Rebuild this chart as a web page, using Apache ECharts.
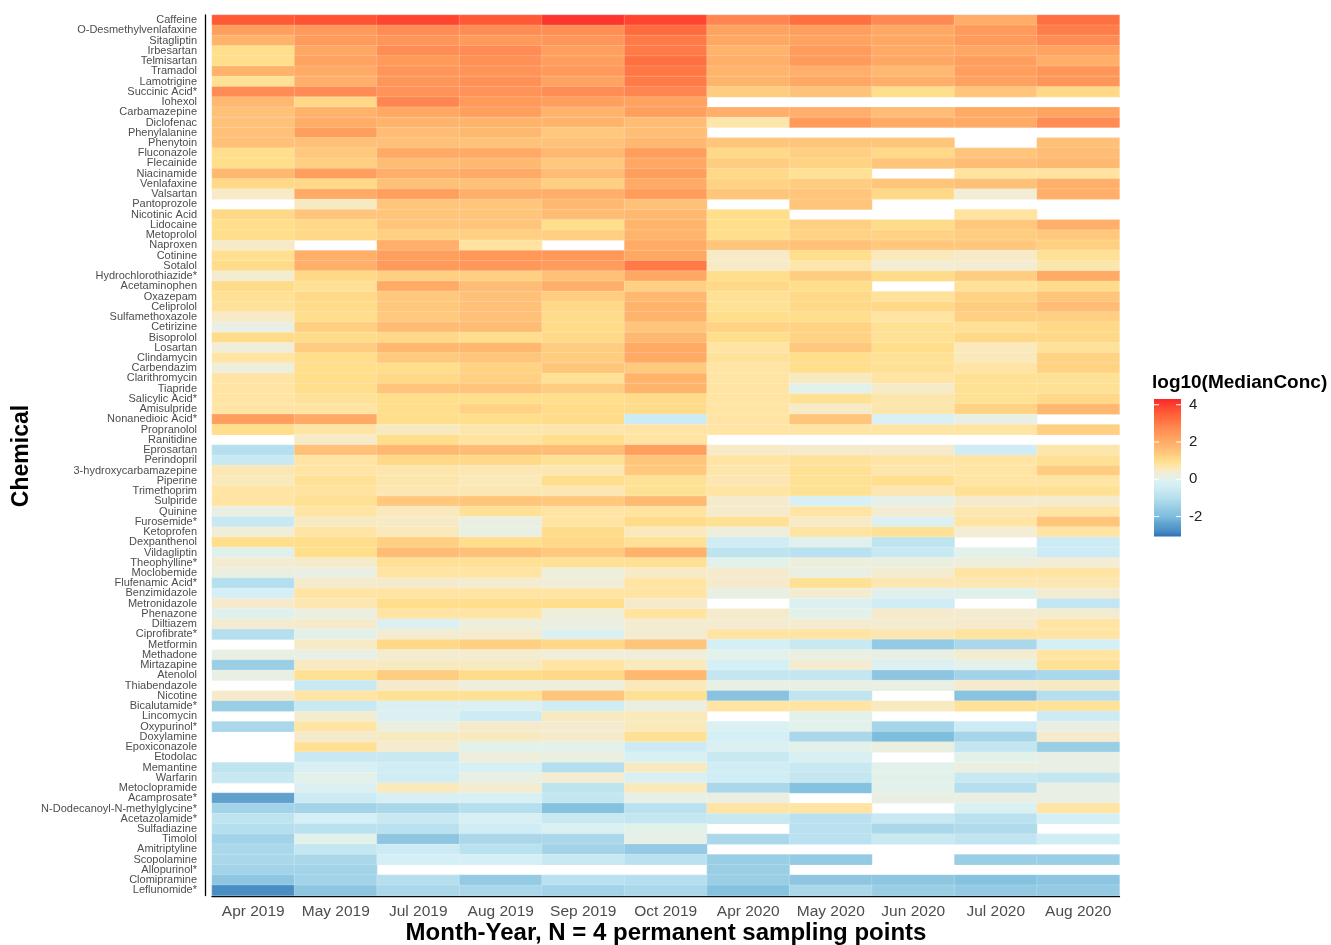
<!DOCTYPE html>
<html>
<head>
<meta charset="utf-8">
<title>log10(MedianConc) heatmap</title>
<script src="https://cdn.jsdelivr.net/npm/echarts@6/dist/echarts.min.js"></script>
<style>
  html, body { margin: 0; padding: 0; background: #fff; }
  #main { width: 1331px; height: 945px; }
</style>
</head>
<body>
<div id="main"></div>
<script>
// ---- data ----
var months = ['Apr 2019', 'May 2019', 'Jul 2019', 'Aug 2019', 'Sep 2019', 'Oct 2019',
              'Apr 2020', 'May 2020', 'Jun 2020', 'Jul 2020', 'Aug 2020'];

var chemicals = [
  'Caffeine', 'O-Desmethylvenlafaxine', 'Sitagliptin', 'Irbesartan', 'Telmisartan', 'Tramadol',
  'Lamotrigine', 'Succinic Acid*', 'Iohexol', 'Carbamazepine', 'Diclofenac', 'Phenylalanine',
  'Phenytoin', 'Fluconazole', 'Flecainide', 'Niacinamide', 'Venlafaxine', 'Valsartan',
  'Pantoprozole', 'Nicotinic Acid', 'Lidocaine', 'Metoprolol', 'Naproxen', 'Cotinine',
  'Sotalol', 'Hydrochlorothiazide*', 'Acetaminophen', 'Oxazepam', 'Celiprolol', 'Sulfamethoxazole',
  'Cetirizine', 'Bisoprolol', 'Losartan', 'Clindamycin', 'Carbendazim', 'Clarithromycin',
  'Tiapride', 'Salicylic Acid*', 'Amisulpride', 'Nonanedioic Acid*', 'Propranolol', 'Ranitidine',
  'Eprosartan', 'Perindopril', '3-hydroxycarbamazepine', 'Piperine', 'Trimethoprim', 'Sulpiride',
  'Quinine', 'Furosemide*', 'Ketoprofen', 'Dexpanthenol', 'Vildagliptin', 'Theophylline*',
  'Moclobemide', 'Flufenamic Acid*', 'Benzimidazole', 'Metronidazole', 'Phenazone', 'Diltiazem',
  'Ciprofibrate*', 'Metformin', 'Methadone', 'Mirtazapine', 'Atenolol', 'Thiabendazole',
  'Nicotine', 'Bicalutamide*', 'Lincomycin', 'Oxypurinol*', 'Doxylamine', 'Epoxiconazole',
  'Etodolac', 'Memantine', 'Warfarin', 'Metoclopramide', 'Acamprosate*', 'N-Dodecanoyl-N-methylglycine*',
  'Acetazolamide*', 'Sulfadiazine', 'Timolol', 'Amitriptyline', 'Scopolamine', 'Allopurinol*',
  'Clomipramine', 'Leflunomide*'
];

// one row per chemical, one value per month (null = not measured)
var conc = [
  [3.6, 3.7, 3.9, 3.6, 4.1, 3.9, 2.8, 3.2, 2.75, 2.0, 3.2],
  [2.3, 2.4, 2.7, 2.7, 2.65, 3.3, 2.2, 2.3, 2.1, 2.4, 2.95],
  [1.9, 2.35, 2.5, 2.4, 2.5, 3.0, 2.1, 2.2, 2.1, 2.35, 2.7],
  [1.0, 2.1, 2.65, 2.7, 2.3, 3.0, 1.85, 2.35, 2.05, 2.1, 2.2],
  [1.0, 2.2, 2.4, 2.6, 2.3, 3.2, 1.95, 2.35, 2.1, 2.3, 1.95],
  [1.9, 2.05, 2.5, 2.55, 2.4, 3.05, 1.85, 1.95, 1.75, 2.3, 2.5],
  [0.9, 1.95, 2.5, 2.6, 2.2, 3.0, 1.85, 2.1, 1.95, 2.25, 2.5],
  [2.7, 2.7, 2.55, 2.55, 2.65, 2.8, 1.3, 1.5, 1.0, 1.45, 1.1],
  [1.75, 1.1, 2.8, 2.4, 2.3, 2.2, null, null, null, null, null],
  [1.55, 1.9, 2.1, 2.3, 1.85, 2.3, 1.95, 1.95, 1.65, 2.05, 2.2],
  [1.55, 2.0, 1.85, 1.85, 1.85, 1.65, 0.7, 2.35, 2.05, 2.05, 2.7],
  [1.55, 2.3, 1.65, 1.75, 1.4, 1.6, null, null, null, null, null],
  [1.55, 1.55, 1.55, 1.5, 1.5, 1.75, 1.45, 1.45, 1.45, null, 1.55],
  [1.0, 1.4, 2.05, 2.05, 1.75, 2.3, 1.1, 1.25, 1.1, 1.45, 1.65],
  [1.0, 1.25, 1.65, 1.75, 1.4, 2.1, 1.3, 1.2, 1.45, 1.65, 1.75],
  [1.75, 2.3, 1.95, 2.05, 1.65, 2.3, 1.1, 0.9, null, 0.8, 0.8],
  [1.1, 1.1, 1.55, 1.55, 1.25, 2.05, 1.2, 1.3, 1.45, 1.55, 1.95],
  [0.5, 2.05, 2.3, 1.95, 1.95, 2.35, 1.45, 1.45, 1.1, 0.35, 1.95],
  [null, 0.55, 1.45, 1.45, 1.75, 1.55, null, 1.45, null, null, null],
  [1.1, 1.45, 1.45, 1.45, 1.65, 1.75, 1.0, null, null, 0.8, null],
  [1.0, 1.1, 1.45, 1.45, 1.0, 1.85, 1.0, 1.25, 1.05, 1.4, 1.95],
  [1.0, 1.1, 1.25, 1.25, 1.25, 1.85, 1.0, 1.2, 1.2, 1.3, 1.4],
  [0.5, null, 1.95, 0.8, null, 2.05, 1.45, 1.55, 1.4, 1.4, 1.25],
  [0.95, 1.95, 2.3, 2.45, 2.45, 2.1, 0.5, 1.0, 0.6, 0.5, 0.9],
  [1.05, 1.95, 2.4, 2.45, 2.35, 3.0, 0.5, 0.7, 0.35, 0.4, 0.7],
  [0.4, 1.1, 1.25, 1.25, 1.55, 2.1, 1.0, 1.3, 1.05, 1.3, 2.05],
  [1.05, 0.9, 2.05, 1.65, 1.95, 1.25, 1.1, 1.0, null, 0.85, 1.05],
  [0.9, 1.1, 1.4, 1.55, 1.3, 1.75, 0.9, 1.1, 0.85, 1.2, 1.45],
  [0.85, 1.05, 1.4, 1.55, 1.1, 1.85, 0.9, 1.1, 1.1, 1.3, 1.65],
  [0.5, 1.0, 1.35, 1.55, 1.05, 1.85, 1.0, 1.0, 0.75, 1.25, 1.25],
  [0.15, 1.25, 1.65, 1.65, 1.05, 1.45, 1.2, 1.2, 0.9, 0.9, 1.1],
  [1.05, 1.05, 1.1, 1.0, 1.1, 1.75, 1.0, 1.2, 0.9, 1.1, 1.1],
  [0.3, 1.3, 1.75, 1.75, 1.3, 2.05, 0.75, 1.4, 1.0, 0.6, 0.85],
  [0.75, 1.0, 1.35, 1.45, 1.3, 2.05, 0.85, 1.0, 0.9, 0.6, 1.2],
  [0.25, 1.0, 1.0, 1.2, 1.45, 1.35, 0.75, 1.0, 0.9, 0.75, 1.2],
  [0.75, 1.0, 1.1, 1.25, 0.9, 1.85, 0.75, 0.55, 0.75, 0.9, 0.9],
  [0.75, 1.0, 1.45, 1.45, 1.3, 1.85, 0.75, 0.05, 0.5, 0.9, 0.9],
  [0.75, 0.85, 1.0, 1.0, 1.0, 1.05, 0.75, 0.9, 0.7, 0.9, 1.1],
  [0.75, 0.75, 1.0, 1.2, 1.05, 1.05, 0.75, 0.5, 0.7, 1.2, 1.75],
  [2.3, 2.05, 1.0, 1.0, 1.05, -0.5, 0.75, 1.45, -0.15, 0.15, null],
  [1.0, 0.75, 0.55, 0.7, 0.7, 0.75, 0.75, 0.75, 0.75, 0.75, 1.25],
  [null, 0.5, 1.0, 0.8, 1.0, 0.75, null, null, null, null, null],
  [-1.0, 1.55, 1.75, 1.65, 1.65, 2.3, 0.5, 0.45, 0.45, -0.4, 0.7],
  [-0.6, 0.75, 1.1, 1.1, 0.9, 1.45, 0.75, 0.85, 0.75, 0.75, 0.9],
  [0.65, 0.75, 0.7, 0.65, 0.65, 1.4, 0.7, 0.9, 0.7, 0.75, 1.3],
  [0.6, 0.9, 0.7, 0.6, 1.0, 0.9, 0.65, 0.9, 1.0, 0.75, 0.75],
  [0.75, 0.8, 0.65, 0.65, 0.65, 0.9, 0.75, 0.9, 0.65, 0.9, 0.9],
  [0.75, 0.9, 1.4, 1.45, 1.4, 1.7, 0.45, -0.2, 0.1, 0.45, 0.45],
  [0.15, 0.75, 0.6, 0.9, 0.75, 0.8, 0.45, 0.75, 0.4, 0.65, 0.75],
  [-0.6, 0.55, 0.5, 0.15, 0.75, 1.05, 0.9, 0.5, -0.1, 0.75, 1.45],
  [0.3, 0.75, 0.6, 0.15, 1.05, 0.6, 0.25, 0.75, 0.9, 0.35, 0.75],
  [1.0, 1.0, 1.25, 1.0, 1.1, 0.9, -0.4, 0.0, -0.8, null, -0.5],
  [0.0, 1.0, 1.65, 1.55, 1.4, 1.9, -0.8, -0.9, -0.6, 0.05, -0.5],
  [0.4, 0.45, 0.9, 0.9, 0.9, 0.9, 0.05, 0.25, 0.2, 0.25, 0.35],
  [0.2, 0.15, 0.75, 0.75, 0.25, 0.5, 0.45, 0.15, 0.4, 0.75, 0.75],
  [-1.0, 0.45, 0.45, 0.4, 0.3, 0.75, 0.45, 0.9, 0.65, 0.65, 0.65],
  [-0.3, 0.75, 0.75, 0.75, 0.75, 0.75, 0.15, 0.4, 0.0, 0.0, 0.4],
  [0.45, 0.65, 1.0, 1.0, 1.0, 0.45, null, -0.1, -0.4, null, -0.7],
  [0.0, 0.2, 0.75, 0.75, 0.25, 0.8, 0.45, 0.05, 0.45, 0.4, 0.4],
  [0.4, 0.45, -0.1, 0.25, 0.2, 0.4, 0.4, 0.4, 0.4, 0.45, 0.75],
  [-1.0, 0.05, 0.4, 0.4, -0.1, 0.4, 0.75, 0.75, 0.65, 0.8, 0.75],
  [null, 0.5, 1.1, 1.25, 1.1, 1.45, -0.3, -0.6, -1.6, -1.2, -0.3],
  [0.15, 0.15, 0.4, 0.4, 0.3, 0.3, 0.05, 0.15, 0.15, 0.4, 0.75],
  [-1.5, 0.55, 0.55, 0.55, 0.75, 0.6, -0.3, 0.4, -0.1, 0.05, 0.9],
  [0.15, 0.9, 1.3, 1.05, 1.1, 1.75, -0.7, -0.7, -1.7, -1.35, -1.2],
  [null, -0.6, 0.45, 0.25, 0.25, 0.6, 0.15, 0.15, 0.15, 0.45, 0.55],
  [0.45, 0.75, 0.9, 0.9, 1.45, 0.9, -1.8, -0.75, null, -1.8, -1.0],
  [-1.5, -0.6, -0.1, -0.1, -0.4, 0.15, 0.75, 0.75, 0.55, 0.85, 0.85],
  [null, 0.4, -0.1, -0.5, 0.55, 0.6, null, 0.05, null, null, -0.5],
  [-1.2, 0.75, 0.2, 0.45, 0.4, 0.6, -0.15, 0.05, -1.3, -0.5, 0.15],
  [null, 0.45, 0.55, 0.55, 0.45, 0.9, -0.3, -1.2, -2.0, -1.3, 0.45],
  [null, 0.9, 0.4, 0.05, 0.05, -0.5, -0.1, 0.05, 0.2, -0.7, -1.5],
  [null, -0.6, -0.6, 0.25, 0.2, -0.2, -0.6, -0.2, null, 0.05, 0.15],
  [-0.8, -0.2, -0.4, -0.2, -1.0, 0.55, -0.4, -0.6, 0.05, 0.2, 0.15],
  [-0.6, 0.05, -0.4, 0.15, 0.4, -0.2, -0.4, -0.7, 0.05, -0.6, -0.7],
  [null, -0.1, 0.6, 0.4, -0.8, 0.6, -1.2, -1.9, 0.05, -1.0, 0.15],
  [-2.4, -0.5, -0.2, -0.2, -0.7, 0.1, 0.15, null, 0.15, 0.15, 0.15],
  [-1.35, -1.35, -1.2, -1.0, -1.9, -0.9, 0.75, 0.75, null, -0.15, 0.75],
  [-0.8, -0.3, -0.6, -0.2, -0.6, -0.7, -0.6, -0.9, -0.6, -0.9, -0.3],
  [-1.0, -0.9, -0.9, -0.4, -0.15, 0.05, null, -0.9, -1.2, -1.1, null],
  [-1.35, 0.05, -1.7, -1.2, -1.2, 0.1, -1.2, -0.9, -0.6, -0.75, -0.4],
  [-1.2, -0.7, -0.5, -0.9, -1.35, -1.6, null, null, null, null, null],
  [-1.2, -1.2, -0.3, -0.3, -0.6, -0.9, -1.5, -1.6, null, -1.5, -1.5],
  [-1.35, -1.35, null, null, null, null, -1.5, null, null, null, null],
  [-1.7, -1.35, -1.0, -1.6, -0.9, -1.0, -1.5, -1.7, -1.7, -1.9, -1.7],
  [-2.8, -1.7, -1.2, -1.2, -1.35, -1.2, -1.9, -1.2, -1.5, -1.6, -1.6]
];

var legendTicks = [4, 2, 0, -2];
var valueMin = -3.07, valueMax = 4.31;

// ---- colour ramp ----
var rampStops = [
  [-3.07, '#2b6fb2'], [-2.8, '#4a8ec6'], [-2.4, '#5fa0cd'], [-2.0, '#7fbfde'],
  [-1.7, '#8ec6e2'], [-1.35, '#a3d3e8'], [-1.0, '#b5dfee'], [-0.6, '#c8e8f2'],
  [-0.3, '#d4eff6'], [0, '#e0f1ee'], [0.25, '#eeeedc'], [0.5, '#f7ebc8'],
  [0.75, '#ffe4a4'], [1.0, '#ffdf8b'], [1.3, '#ffcd80'], [1.55, '#ffc078'],
  [1.85, '#ffb46c'], [2.1, '#ffa864'], [2.4, '#ff9a5a'], [2.7, '#ff8c55'],
  [3.0, '#ff7a46'], [3.2, '#ff7040'], [3.6, '#ff5a35'], [3.9, '#ff4530'],
  [4.31, '#f8272a']
];

function hexToRgb(h) {
  return [parseInt(h.substr(1, 2), 16), parseInt(h.substr(3, 2), 16), parseInt(h.substr(5, 2), 16)];
}
function colorAt(v) {
  if (v <= rampStops[0][0]) return rampStops[0][1];
  for (var i = 1; i < rampStops.length; i++) {
    if (v <= rampStops[i][0]) {
      var a = rampStops[i - 1], b = rampStops[i];
      var t = (v - a[0]) / (b[0] - a[0]);
      var ca = hexToRgb(a[1]), cb = hexToRgb(b[1]);
      var c = ca.map(function (x, k) { return Math.round(x + (cb[k] - x) * t); });
      return 'rgb(' + c.join(',') + ')';
    }
  }
  return rampStops[rampStops.length - 1][1];
}
var rampColors = [];
for (var i = 0; i <= 100; i++) rampColors.push(colorAt(valueMin + (valueMax - valueMin) * i / 100));

// ---- series data ----
var cells = [];
for (var r = 0; r < chemicals.length; r++) {
  for (var c = 0; c < months.length; c++) {
    if (conc[r][c] !== null) cells.push([c, r, conc[r][c]]);
  }
}

// ---- legend (drawn by hand, ggplot style) ----
var FONT = '"Liberation Sans", Arial, Helvetica, sans-serif';
var barX = 1154, barY = 399, barW = 27, barH = 137.5;
function legendY(v) { return barY + (valueMax - v) / (valueMax - valueMin) * barH; }

var gradStops = [];
for (var g = 0; g <= 40; g++) {
  var v = valueMax - (valueMax - valueMin) * g / 40;
  gradStops.push({ offset: g / 40, color: colorAt(v) });
}

var graphics = [
  { type: 'rect', shape: { x: barX, y: barY, width: barW, height: barH },
    style: { fill: new echarts.graphic.LinearGradient(0, 0, 0, 1, gradStops) } },
  { type: 'text', x: 1152, y: 383,
    style: { text: 'log10(MedianConc)', font: 'bold 19px ' + FONT, fill: '#000',
             textAlign: 'left', textVerticalAlign: 'middle' } },
  { type: 'text', x: 22, y: 456, rotation: Math.PI / 2,
    style: { text: 'Chemical', font: 'bold 23px ' + FONT, fill: '#000',
             textAlign: 'center', textVerticalAlign: 'middle' } },
  { type: 'text', x: 666, y: 933,
    style: { text: 'Month-Year, N = 4 permanent sampling points', font: 'bold 24px ' + FONT,
             fill: '#000', textAlign: 'center', textVerticalAlign: 'middle' } }
];
legendTicks.forEach(function (t) {
  var y = legendY(t);
  graphics.push({ type: 'line', shape: { x1: barX, y1: y, x2: barX + 5, y2: y },
                  style: { stroke: '#fff', lineWidth: 1 } });
  graphics.push({ type: 'line', shape: { x1: barX + barW - 5, y1: y, x2: barX + barW, y2: y },
                  style: { stroke: '#fff', lineWidth: 1 } });
  graphics.push({ type: 'text', x: 1189, y: y,
                  style: { text: String(t), font: '15px ' + FONT, fill: '#222',
                           textAlign: 'left', textVerticalAlign: 'middle' } });
});

var myChart = echarts.init(document.getElementById('main'));
var option = {
  backgroundColor: '#fff',
  animation: false,
  textStyle: { fontFamily: FONT },
  grid: { left: 212, top: 15, width: 907.5, height: 880.5 },
  xAxis: {
    type: 'category',
    data: months,
    offset: 1,
    axisLine: { lineStyle: { color: '#000', width: 1.3 } },
    axisTick: { alignWithLabel: true, length: 4, lineStyle: { color: '#333' } },
    axisLabel: { fontSize: 15.5, color: '#4d4d4d', margin: 7, interval: 0 },
    splitLine: { show: false }
  },
  yAxis: {
    type: 'category',
    data: chemicals,
    inverse: true,
    offset: 7,
    axisLine: { lineStyle: { color: '#000', width: 1.3 } },
    axisTick: { alignWithLabel: true, length: 3.5, lineStyle: { color: '#333' } },
    axisLabel: { fontSize: 11, color: '#4d4d4d', margin: 8, interval: 0, padding: [2, 0, 0, 0] },
    splitLine: { show: false }
  },
  visualMap: {
    type: 'continuous',
    show: false,
    min: valueMin,
    max: valueMax,
    dimension: 2,
    inRange: { color: rampColors }
  },
  series: [{
    type: 'heatmap',
    data: cells,
    itemStyle: { borderColor: 'rgba(255,255,255,0.3)', borderWidth: 0.6 },
    emphasis: { disabled: true }
  }],
  graphic: graphics
};
myChart.setOption(option);
</script>
</body>
</html>
